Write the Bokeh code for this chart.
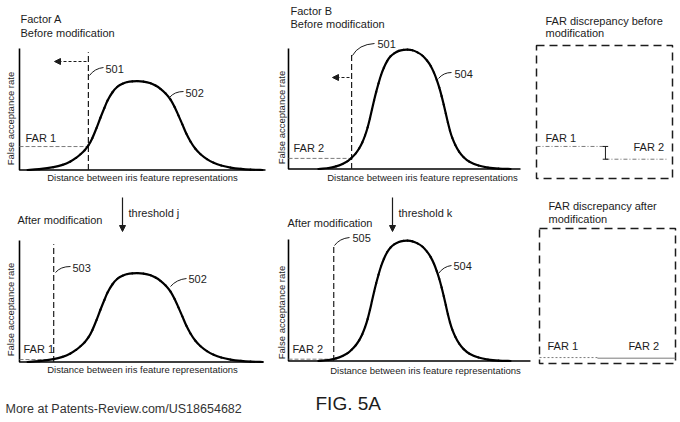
from math import pi
from bokeh.plotting import figure
from bokeh.models import Range1d, Arrow, NormalHead
from bokeh.layouts import column, row
from bokeh.core.properties import value
from bokeh.embed import file_html
from bokeh.resources import INLINE

# ---------------- data ----------------
factors = ["Factor A", "Factor B"]
far_labels = ["FAR 1", "FAR 2"]
curve_ids = ["502", "504"]
threshold_ids_before = ["501", "501"]
threshold_ids_after = ["503", "505"]
threshold_steps = ["threshold j", "threshold k"]

# curve 502 (factor A): normalised distance vs false acceptance rate
distance_502 = [0.033, 0.080, 0.138, 0.175, 0.207, 0.230, 0.248, 0.265, 0.280,
                0.296, 0.313, 0.329, 0.345, 0.358, 0.378, 0.398, 0.419, 0.439,
                0.459, 0.480, 0.504, 0.533, 0.553, 0.573, 0.594, 0.614, 0.630,
                0.646, 0.662, 0.678, 0.695, 0.715, 0.736, 0.762, 0.789, 0.820,
                0.858, 0.900, 0.939, 0.988]
rate_502 = [0.000, 0.007, 0.023, 0.042, 0.070, 0.100, 0.130, 0.163, 0.202,
            0.262, 0.345, 0.430, 0.510, 0.572, 0.640, 0.685, 0.710, 0.724,
            0.730, 0.732, 0.728, 0.714, 0.695, 0.668, 0.630, 0.580, 0.520,
            0.450, 0.375, 0.300, 0.235, 0.175, 0.130, 0.090, 0.060, 0.037,
            0.020, 0.009, 0.003, 0.000]

# curve 504 (factor B)
distance_504 = [0.129, 0.172, 0.205, 0.233, 0.255, 0.272, 0.290, 0.305, 0.318,
                0.330, 0.341, 0.351, 0.360, 0.369, 0.378, 0.388, 0.399, 0.411,
                0.425, 0.440, 0.457, 0.476, 0.496, 0.513, 0.534, 0.556, 0.578,
                0.597, 0.613, 0.627, 0.639, 0.650, 0.660, 0.669, 0.678, 0.687,
                0.696, 0.706, 0.719, 0.735, 0.755, 0.780, 0.819, 0.860, 0.905,
                0.957]
rate_504 = [0.000, 0.008, 0.022, 0.042, 0.065, 0.093, 0.130, 0.172, 0.220,
            0.278, 0.345, 0.420, 0.495, 0.570, 0.640, 0.710, 0.780, 0.840,
            0.895, 0.935, 0.962, 0.980, 0.988, 0.990, 0.985, 0.968, 0.940,
            0.900, 0.855, 0.800, 0.740, 0.675, 0.605, 0.535, 0.460, 0.385,
            0.318, 0.258, 0.200, 0.145, 0.098, 0.060, 0.029, 0.012, 0.003,
            0.000]

threshold_before = [0.280, 0.272]   # 501
threshold_after = [0.139, 0.195]    # 503, 505
far_before = [0.193, 0.088]
far_after = [0.020, 0.015]

x_title = "Distance between iris feature representations"
y_title = "False acceptance rate"

# ---------------- styling helpers ----------------
FONT = value("Liberation Sans")
INK = "#1c1c1c"
GREY = "#7a7a7a"


def cell(x0, x1, y0, y1, ox, oy, lx, ly):
    p = figure(width=x1 - x0, height=y1 - y0,
               x_range=Range1d((x0 - ox) / lx, (x1 - ox) / lx),
               y_range=Range1d((oy - y1) / ly, (oy - y0) / ly),
               output_backend="svg", toolbar_location=None, min_border=0,
               x_axis_type=None, y_axis_type=None, outline_line_color=None,
               background_fill_color="white", border_fill_color="white")

    def to(X, Y):
        return (X - ox) / lx, (oy - Y) / ly
    return p, to


def label(p, to, X, Y, s, size="11px", angle=0.0, align="left", color=INK):
    x, y = to(X, Y)
    p.text(x=[x], y=[y], text=[s], angle=angle, text_font=FONT,
           text_font_size=size, text_align=align, text_baseline="middle",
           text_color=color)


def leader(p, to, a, c, b):
    (x0, y0), (cx, cy), (x1, y1) = to(*a), to(*c), to(*b)
    p.quadratic(x0=[x0], y0=[y0], x1=[x1], y1=[y1], cx=[cx], cy=[cy],
                line_color=INK, line_width=1)


def arrow(p, to, a, b, dash="solid"):
    (x0, y0), (x1, y1) = to(*a), to(*b)
    p.add_layout(Arrow(end=NormalHead(size=6, fill_color=INK, line_color=INK,
                                      line_width=1),
                       x_start=x0, y_start=y0, x_end=x1, y_end=y1,
                       line_color=INK, line_width=1.2, line_dash=dash))


def smooth_curve(p, xs, ys, **style):
    """Draw a smooth line through the read points (Catmull-Rom as Beziers)."""
    n = len(xs)
    x0, y0, x1, y1, cx0, cy0, cx1, cy1 = ([] for _ in range(8))
    for i in range(n - 1):
        a = max(i - 1, 0)
        b = min(i + 2, n - 1)
        x0.append(xs[i]); y0.append(ys[i])
        x1.append(xs[i + 1]); y1.append(ys[i + 1])
        cx0.append(xs[i] + (xs[i + 1] - xs[a]) / 6.0)
        cy0.append(ys[i] + (ys[i + 1] - ys[a]) / 6.0)
        cx1.append(xs[i + 1] - (xs[b] - xs[i]) / 6.0)
        cy1.append(ys[i + 1] - (ys[b] - ys[i]) / 6.0)
    p.bezier(x0=x0, y0=y0, x1=x1, y1=y1, cx0=cx0, cy0=cy0, cx1=cx1, cy1=cy1,
             **style)


def curve_panel(p, dist, rate, thr, far, x_end, thr_top=0.97):
    p.line(x=[0, 0, x_end], y=[1, 0, 0], line_color="black", line_width=1.6)
    p.segment(x0=[0], y0=[far], x1=[thr], y1=[far], line_color=GREY,
              line_width=1, line_dash="4 2")
    p.segment(x0=[thr], y0=[0], x1=[thr], y1=[thr_top], line_color=INK,
              line_width=1.2, line_dash="6 3")
    smooth_curve(p, dist, rate, line_color="black", line_width=2.2,
                 line_cap="round")


W1, W2, W3 = 270, 533, 678
H1, H2 = 195, 420

# ---------------- top-left: factor A before ----------------
tl, to = cell(0, W1, 0, H1, 19, 169.5, 246, 121.5)
curve_panel(tl, distance_502, rate_502, threshold_before[0], far_before[0], 1.0)
label(tl, to, 20, 18, factors[0])
label(tl, to, 20, 32, "Before modification")
label(tl, to, 10, 118, y_title, size="9.5px", angle=pi / 2, align="center")
label(tl, to, 142, 177, x_title, size="9.5px", align="center")
label(tl, to, 25, 137, far_labels[0])
label(tl, to, 105, 68, threshold_ids_before[0])
label(tl, to, 185, 92, curve_ids[0])
leader(tl, to, (89, 75), (94, 68), (103, 67))
leader(tl, to, (169, 97), (174, 91), (183, 91))
arrow(tl, to, (86, 61), (54, 61), dash="3 2")

# ---------------- top-middle: factor B before ----------------
tm, to = cell(W1, W2, 0, H1, 288, 168.5, 232, 120.5)
curve_panel(tm, distance_504, rate_504, threshold_before[1], far_before[1], 1.0)
label(tm, to, 290, 10, factors[1])
label(tm, to, 290, 23, "Before modification")
label(tm, to, 281, 117, y_title, size="9.5px", angle=pi / 2, align="center")
label(tm, to, 422, 177, x_title, size="9.5px", align="center")
label(tm, to, 293, 147, far_labels[1])
label(tm, to, 377, 43, threshold_ids_before[1])
label(tm, to, 454, 73, curve_ids[1])
leader(tm, to, (352, 55), (358, 44), (374, 43))
leader(tm, to, (438, 78), (443, 72), (451, 72))
arrow(tm, to, (349, 77), (332, 77), dash="3 2")

# ---------------- top-right: discrepancy before ----------------
tr, to = cell(W2, W3, 0, H1, 536, 169.4, 136, 121.5)
tr.quad(left=[0], right=[1], bottom=[-0.071], top=[1.024], fill_color=None,
        line_color=INK, line_width=1.5, line_dash="8 5")
label(tr, to, 545, 20, "FAR discrepancy before")
label(tr, to, 545, 32, "modification")
label(tr, to, 545, 137, far_labels[0])
label(tr, to, 633, 146, far_labels[1])
tr.segment(x0=[0, 0.507], y0=far_before, x1=[0.507, 0.963], y1=far_before,
           line_color=GREY, line_width=1, line_dash="4 2 1 2")
tr.segment(x0=[0.507, 0.487, 0.487], y0=[far_before[0], far_before[0], far_before[1]],
           x1=[0.507, 0.527, 0.527], y1=[far_before[1], far_before[0], far_before[1]],
           line_color=INK, line_width=1)

# ---------------- bottom-left: factor A after ----------------
bl, to = cell(0, W1, H1, H2, 19, 361.5, 246, 121.5)
curve_panel(bl, distance_502, rate_502, threshold_after[0], far_after[0], 0.992)
label(bl, to, 17, 219, "After modification")
label(bl, to, 128, 212, threshold_steps[0])
arrow(bl, to, (122, 197), (122, 231))
label(bl, to, 10, 309, y_title, size="9.5px", angle=pi / 2, align="center")
label(bl, to, 142, 369, x_title, size="9.5px", align="center")
label(bl, to, 23, 348, far_labels[0])
label(bl, to, 72, 267, threshold_ids_after[0])
label(bl, to, 188, 278, curve_ids[0])
leader(bl, to, (55, 272), (60, 266), (70, 266))
leader(bl, to, (170, 286), (176, 279), (186, 278))
label(bl, to, 5, 408, "More at Patents-Review.com/US18654682", size="12.5px",
      color="#333333")

# ---------------- bottom-middle: factor B after ----------------
bm, to = cell(W1, W2, H1, H2, 288, 360.5, 232, 121.5)
curve_panel(bm, distance_504, rate_504, threshold_after[1], far_after[1], 1.043,
            thr_top=0.95)
label(bm, to, 287, 222, "After modification")
label(bm, to, 398, 212, threshold_steps[1])
arrow(bm, to, (392, 197), (392, 231))
label(bm, to, 281, 312, y_title, size="9.5px", angle=pi / 2, align="center")
label(bm, to, 425, 370, x_title, size="9.5px", align="center")
label(bm, to, 292, 348, far_labels[1])
label(bm, to, 352, 237, threshold_ids_after[1])
label(bm, to, 453, 265, curve_ids[1])
leader(bm, to, (334, 245), (339, 238), (349, 237))
leader(bm, to, (438, 273), (443, 266), (451, 265))
label(bm, to, 315, 403, "FIG. 5A", size="19px")

# ---------------- bottom-right: discrepancy after ----------------
br, to = cell(W2, W3, H1, H2, 539, 359.5, 136, 121.5)
br.quad(left=[0], right=[1], bottom=[-0.029], top=[1.082], fill_color=None,
        line_color=INK, line_width=1.5, line_dash="8 5")
label(br, to, 548, 205, "FAR discrepancy after")
label(br, to, 548, 218, "modification")
label(br, to, 547, 345, far_labels[0])
label(br, to, 628, 345, far_labels[1])
br.segment(x0=[0], y0=[far_after[0]], x1=[0.426], y1=[far_after[0]],
           line_color=GREY, line_width=1, line_dash="2 2")
br.segment(x0=[0.426], y0=[far_after[1]], x1=[1.0], y1=[far_after[1]],
           line_color=GREY, line_width=1)

layout = column(row(tl, tm, tr), row(bl, bm, br))
open("out.html", "w").write(file_html(layout, INLINE))
